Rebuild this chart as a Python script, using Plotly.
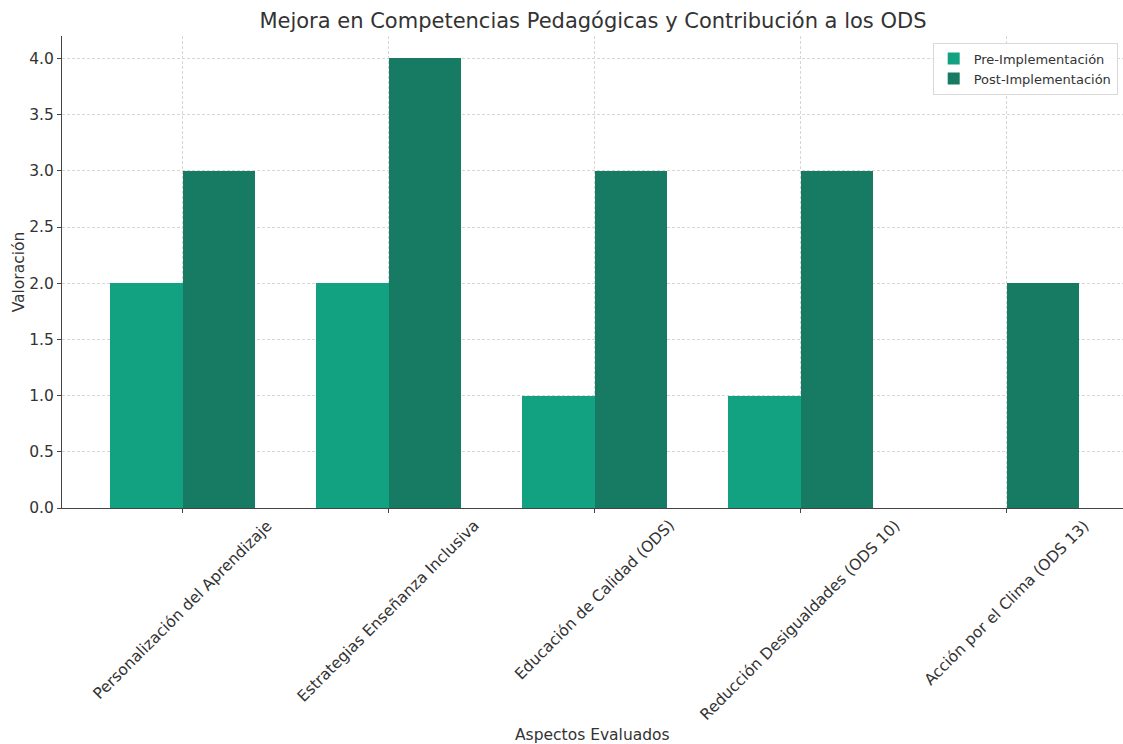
import plotly.graph_objects as go

# Evaluated aspects and scores before / after the implementation
aspectos = [
    "Personalización del Aprendizaje",
    "Estrategias Enseñanza Inclusiva",
    "Educación de Calidad (ODS)",
    "Reducción Desigualdades (ODS 10)",
    "Acción por el Clima (ODS 13)",
]
pre_implementacion = [2, 2, 1, 1, 0]
post_implementacion = [3, 4, 3, 3, 2]
y_ticks = [0.0, 0.5, 1.0, 1.5, 2.0, 2.5, 3.0, 3.5, 4.0]

ancho = 0.35
idx = list(range(len(aspectos)))
centros = [i + ancho / 2 for i in idx]

FONT = "DejaVu Sans"
TXT = "#333333"
AXIS = "#444444"
GRID = "#d6d6d6"
FS = 15.5

fig = go.Figure()
fig.add_trace(go.Bar(
    x=idx, y=pre_implementacion, width=ancho, name="Pre-Implementación",
    marker=dict(color="#13a281", line=dict(width=0)),
))
fig.add_trace(go.Bar(
    x=[i + ancho for i in idx], y=post_implementacion, width=ancho,
    name="Post-Implementación",
    marker=dict(color="#177a62", line=dict(width=0)),
))

# Rotated category labels centred under each group
for c, lab in zip(centros, aspectos):
    fig.add_annotation(
        x=c, xref="x", y=0, yref="paper", text=lab, showarrow=False,
        textangle=-45, xanchor="center", yanchor="top", yshift=-6,
        font=dict(family=FONT, size=FS, color=TXT),
    )

# x-axis title below the rotated labels
fig.add_annotation(
    x=0.5, xref="paper", y=-227 / 472, yref="paper", text="Aspectos Evaluados",
    showarrow=False, xanchor="center", yanchor="middle",
    font=dict(family=FONT, size=FS, color=TXT),
)

fig.update_layout(
    width=1123, height=744,
    margin=dict(l=62, r=0, t=36, b=236),
    paper_bgcolor="white", plot_bgcolor="white",
    barmode="overlay", bargap=0,
    font=dict(family=FONT, size=FS, color=TXT),
    title=dict(
        text="Mejora en Competencias Pedagógicas y Contribución a los ODS",
        x=0.528, xanchor="center", y=0.972, yanchor="middle",
        font=dict(family=FONT, size=21, color=TXT),
    ),
    legend=dict(
        x=0.995, xanchor="right", y=0.986, yanchor="top",
        bordercolor="#d9d9d9", borderwidth=1, bgcolor="rgba(255,255,255,0.85)",
        font=dict(family=FONT, size=13, color=TXT),
        tracegroupgap=2,
    ),
    showlegend=True,
)

fig.update_xaxes(
    range=[-0.41, 4.74], tickvals=centros, ticktext=[""] * len(centros),
    showticklabels=False, ticks="outside", ticklen=4, tickcolor=AXIS,
    showgrid=True, gridcolor=GRID, griddash="3px,2px", gridwidth=0.8,
    showline=True, linecolor=AXIS, linewidth=1.2,
    zeroline=False,
)

fig.update_yaxes(
    range=[0, 4.2], tickvals=y_ticks, ticktext=[f"{v:.1f}" for v in y_ticks],
    ticks="outside", ticklen=4, tickcolor=AXIS,
    tickfont=dict(family=FONT, size=FS, color=TXT),
    showgrid=True, gridcolor=GRID, griddash="3px,2px", gridwidth=0.8,
    showline=True, linecolor=AXIS, linewidth=1.2,
    zeroline=False,
    title=dict(text="Valoración", font=dict(family=FONT, size=FS, color=TXT), standoff=0),
)

fig.write_html("out.html")
